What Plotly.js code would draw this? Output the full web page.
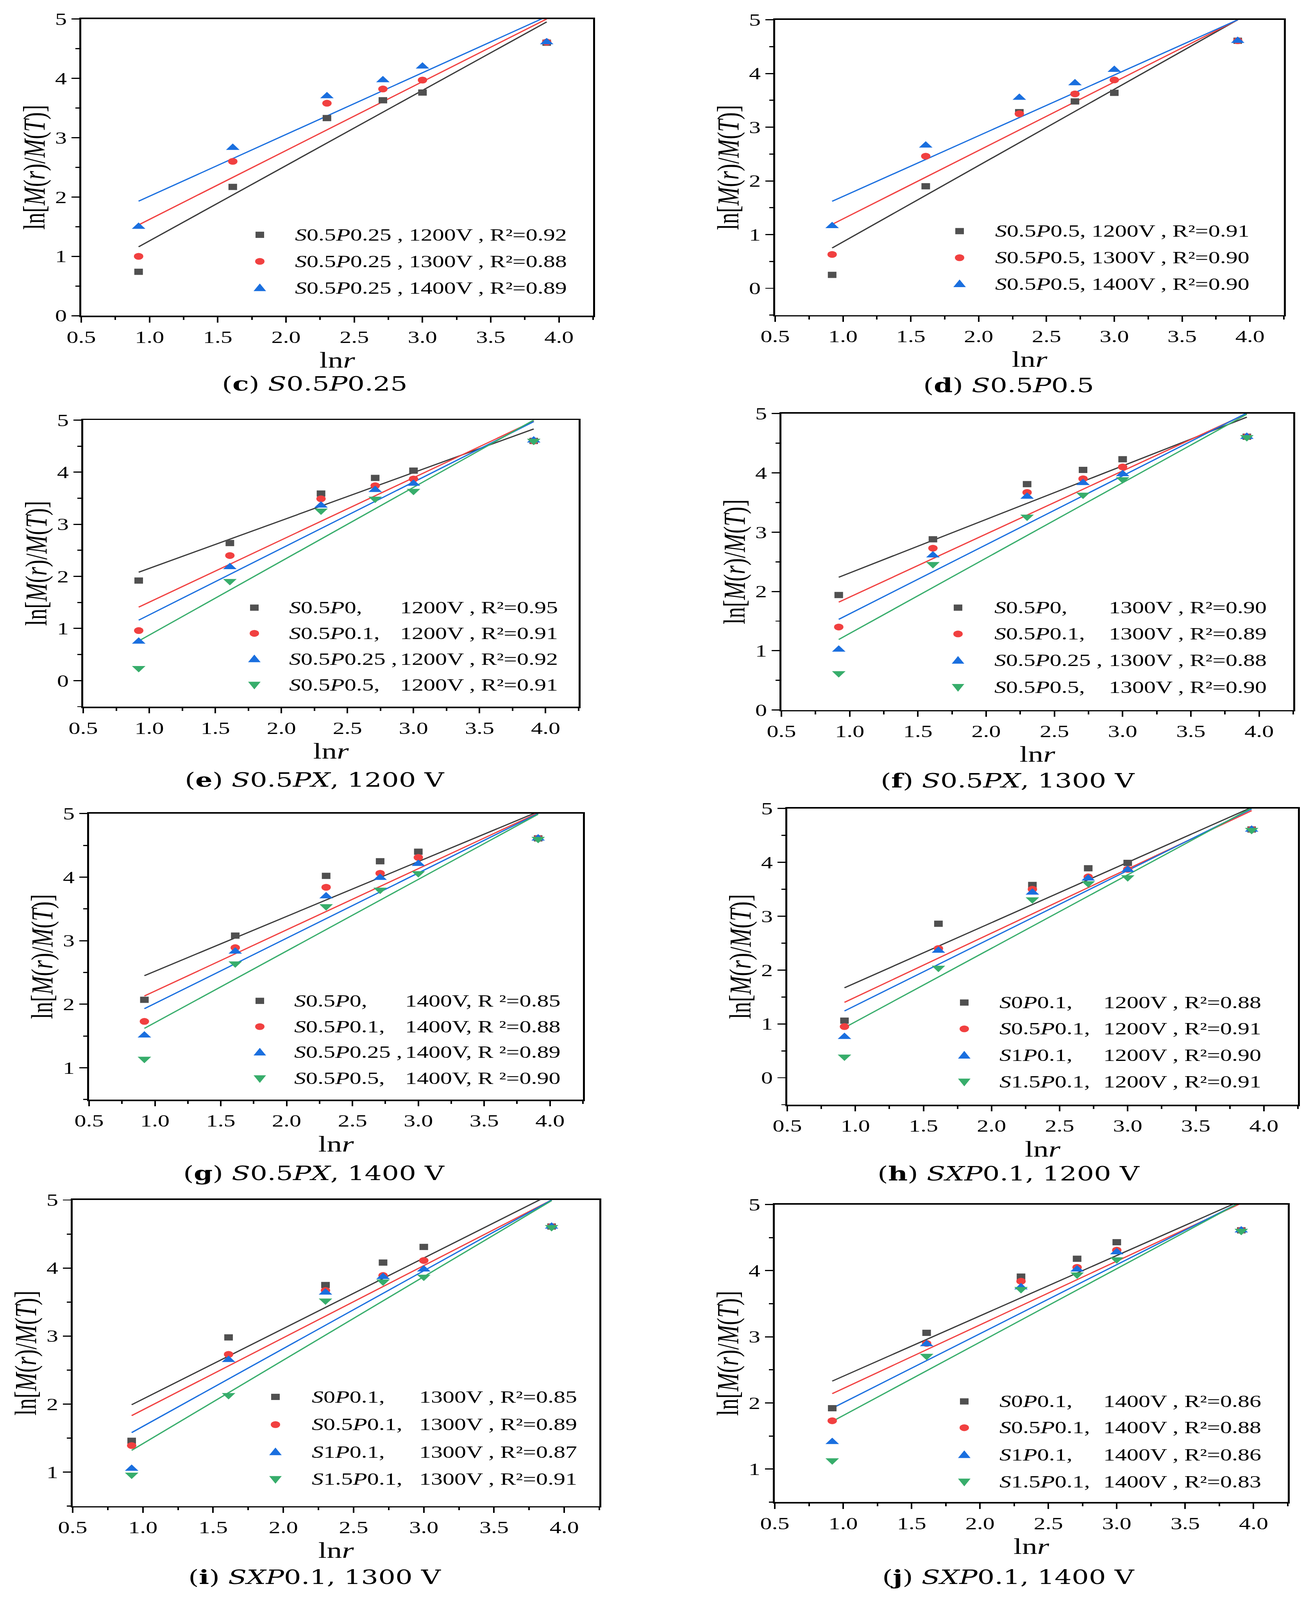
<!DOCTYPE html>
<html><head><meta charset="utf-8">
<script src="https://cdn.plot.ly/plotly-3.0.1.min.js"></script>
<style>html,body{margin:0;padding:0;background:#fff;overflow:hidden}#chart{width:3358px;height:5656px;transform-origin:0 0}</style>
</head><body><div id="chart"></div>
<script>
const W = 3358, H = 5656;

// ---------- shared x values: ln r ----------
const lnr = [0.92, 1.61, 2.30, 2.71, 3.00, 3.91];
const fitX = [0.92, 3.91];

// ---------- (c) S0.5P0.25 ----------
const c_1200 = [0.74, 2.17, 3.33, 3.63, 3.76, 4.60];
const c_1300 = [1.00, 2.60, 3.58, 3.82, 3.97, 4.61];
const c_1400 = [1.50, 2.83, 3.70, 3.97, 4.20, 4.61];
const c_fitStart = [1.16, 1.53, 1.93];
const c_fitEnd = [4.95, 5.00, 5.04];
const c_names = ["<i>S</i>0.5<i>P</i>0.25 , 1200V , R²=0.92",
                 "<i>S</i>0.5<i>P</i>0.25 , 1300V , R²=0.88",
                 "<i>S</i>0.5<i>P</i>0.25 , 1400V , R²=0.89"];
const c_caption = "(<b>c</b>) <i>S</i>0.5<i>P</i>0.25";

// ---------- (d) S0.5P0.5 ----------
const d_1200 = [0.25, 1.90, 3.28, 3.48, 3.64, 4.61];
const d_1300 = [0.63, 2.46, 3.25, 3.62, 3.88, 4.61];
const d_1400 = [1.16, 2.66, 3.55, 3.82, 4.07, 4.61];
const d_fitStart = [0.75, 1.19, 1.62];
const d_fitEnd = [5.00, 5.00, 5.00];
const d_names = ["<i>S</i>0.5<i>P</i>0.5, 1200V , R²=0.91",
                 "<i>S</i>0.5<i>P</i>0.5, 1300V , R²=0.90",
                 "<i>S</i>0.5<i>P</i>0.5, 1400V , R²=0.90"];
const d_caption = "(<b>d</b>) <i>S</i>0.5<i>P</i>0.5";

// ---------- (e) S0.5PX, 1200 V ----------
const e_P0 = [1.92, 2.64, 3.59, 3.89, 4.03, 4.60];
const e_P01 = [0.96, 2.40, 3.49, 3.74, 3.87, 4.60];
const e_P025 = [0.75, 2.18, 3.36, 3.66, 3.78, 4.61];
const e_P05 = [0.24, 1.91, 3.26, 3.49, 3.64, 4.60];
const e_fitStart = [2.08, 1.41, 1.16, 0.76];
const e_fitEnd = [4.83, 4.98, 4.97, 5.00];
const e_names = ["<i>S</i>0.5<i>P</i>0,", "<i>S</i>0.5<i>P</i>0.1,", "<i>S</i>0.5<i>P</i>0.25 ,", "<i>S</i>0.5<i>P</i>0.5,"];
const e_vals = ["1200V , R²=0.95", "1200V , R²=0.91", "1200V , R²=0.92", "1200V , R²=0.91"];
const e_caption = "(<b>e</b>) <i>S</i>0.5<i>PX</i>, 1200 V";

// ---------- (f) S0.5PX, 1300 V ----------
const f_P0 = [1.94, 2.88, 3.81, 4.05, 4.23, 4.61];
const f_P01 = [1.40, 2.73, 3.67, 3.90, 4.10, 4.61];
const f_P025 = [1.02, 2.61, 3.60, 3.83, 3.98, 4.61];
const f_P05 = [0.62, 2.46, 3.26, 3.63, 3.89, 4.60];
const f_fitStart = [2.24, 1.82, 1.53, 1.19];
const f_fitEnd = [4.94, 5.00, 5.01, 4.99];
const f_names = ["<i>S</i>0.5<i>P</i>0,", "<i>S</i>0.5<i>P</i>0.1,", "<i>S</i>0.5<i>P</i>0.25 ,", "<i>S</i>0.5<i>P</i>0.5,"];
const f_vals = ["1300V , R²=0.90", "1300V , R²=0.89", "1300V , R²=0.88", "1300V , R²=0.90"];
const f_caption = "(<b>f</b>) <i>S</i>0.5<i>PX</i>, 1300 V";

// ---------- (g) S0.5PX, 1400 V ----------
const g_P0 = [2.07, 3.08, 4.02, 4.25, 4.40, 4.61];
const g_P01 = [1.73, 2.89, 3.84, 4.06, 4.31, 4.61];
const g_P025 = [1.51, 2.83, 3.70, 3.99, 4.21, 4.61];
const g_P05 = [1.14, 2.64, 3.54, 3.80, 4.06, 4.60];
const g_fitStart = [2.45, 2.13, 1.93, 1.62];
const g_fitEnd = [5.03, 5.01, 5.00, 4.99];
const g_names = ["<i>S</i>0.5<i>P</i>0,", "<i>S</i>0.5<i>P</i>0.1,", "<i>S</i>0.5<i>P</i>0.25 ,", "<i>S</i>0.5<i>P</i>0.5,"];
const g_vals = ["1400V, R ²=0.85", "1400V, R ²=0.88", "1400V, R ²=0.89", "1400V, R ²=0.90"];
const g_caption = "(<b>g</b>) <i>S</i>0.5<i>PX</i>, 1400 V";

// ---------- (h) SXP0.1, 1200 V ----------
const h_S0 = [1.06, 2.86, 3.58, 3.89, 3.99, 4.61];
const h_S05 = [0.95, 2.40, 3.50, 3.73, 3.87, 4.61];
const h_S1 = [0.76, 2.36, 3.44, 3.70, 3.86, 4.61];
const h_S15 = [0.39, 2.04, 3.31, 3.61, 3.72, 4.60];
const h_fitStart = [1.67, 1.40, 1.24, 0.93];
const h_fitEnd = [5.02, 4.96, 4.99, 5.01];
const h_names = ["<i>S</i>0<i>P</i>0.1,", "<i>S</i>0.5<i>P</i>0.1,", "<i>S</i>1<i>P</i>0.1,", "<i>S</i>1.5<i>P</i>0.1,"];
const h_vals = ["1200V , R²=0.88", "1200V , R²=0.91", "1200V , R²=0.90", "1200V , R²=0.91"];
const h_caption = "(<b>h</b>) <i>SXP</i>0.1, 1200 V";

// ---------- (i) SXP0.1, 1300 V ----------
const i_S0 = [1.46, 2.98, 3.75, 4.08, 4.31, 4.61];
const i_S05 = [1.39, 2.73, 3.67, 3.89, 4.11, 4.61];
const i_S1 = [1.05, 2.65, 3.64, 3.87, 3.98, 4.61];
const i_S15 = [0.96, 2.13, 3.52, 3.80, 3.87, 4.60];
const i_fitStart = [1.99, 1.83, 1.58, 1.32];
const i_fitEnd = [5.09, 5.00, 5.00, 4.99];
const i_names = ["<i>S</i>0<i>P</i>0.1,", "<i>S</i>0.5<i>P</i>0.1,", "<i>S</i>1<i>P</i>0.1,", "<i>S</i>1.5<i>P</i>0.1,"];
const i_vals = ["1300V , R²=0.85", "1300V , R²=0.89", "1300V , R²=0.87", "1300V , R²=0.91"];
const i_caption = "(<b>i</b>) <i>SXP</i>0.1, 1300 V";

// ---------- (j) SXP0.1, 1400 V ----------
const j_S0 = [1.92, 3.06, 3.91, 4.18, 4.43, 4.61];
const j_S05 = [1.73, 2.90, 3.84, 4.05, 4.31, 4.61];
const j_S1 = [1.41, 2.89, 3.75, 4.02, 4.28, 4.61];
const j_S15 = [1.13, 2.71, 3.72, 3.94, 4.17, 4.60];
const j_fitStart = [2.33, 2.14, 1.92, 1.72];
const j_fitEnd = [5.06, 5.02, 5.04, 5.04];
const j_names = ["<i>S</i>0<i>P</i>0.1,", "<i>S</i>0.5<i>P</i>0.1,", "<i>S</i>1<i>P</i>0.1,", "<i>S</i>1.5<i>P</i>0.1,"];
const j_vals = ["1400V , R²=0.86", "1400V , R²=0.88", "1400V , R²=0.86", "1400V , R²=0.83"];
const j_caption = "(<b>j</b>) <i>SXP</i>0.1, 1400 V";

// ---------- styles ----------
const symbols = ['square', 'circle', 'triangle-up', 'triangle-down'];
const markerColors = ['#505050', '#f14040', '#1a6fdf', '#37ad6b'];
const lineColors = ['#3a3a3a', '#f14040', '#1a6fdf', '#37ad6b'];
const markerSizes = [22, 24, 30, 30];
const SERIF = 'Liberation Serif, Times New Roman, serif';
const CAPFONT = 'DejaVu Serif, serif';

// ---------- panel layout (pixel geometry of the 3358x5656 figure) ----------
const panels = [
  {x:[208,1518], y:[67,1116], yr:[0,5], series:[c_1200,c_1300,c_1400], fa:c_fitStart, fb:c_fitEnd, names:c_names, vals:null,
   keyX:665, textX:753, colX:null, rows:[830,924,1018], cap:[805,1357], capText:c_caption},
  {x:[1984,3286], y:[70,1114], yr:[-0.5,5], series:[d_1200,d_1300,d_1400], fa:d_fitStart, fb:d_fitEnd, names:d_names, vals:null,
   keyX:2456, textX:2545, colX:null, rows:[817,911,1004], cap:[2581,1362], capText:d_caption},
  {x:[213,1481], y:[1485,2498], yr:[-0.5,5], series:[e_P0,e_P01,e_P025,e_P05], fa:e_fitStart, fb:e_fitEnd, names:e_names, vals:e_vals,
   keyX:651, textX:738, colX:1022, rows:[2148,2239,2330,2421], cap:[805,2757], capText:e_caption},
  {x:[2000,3310], y:[1462,2510], yr:[0,5], series:[f_P0,f_P01,f_P025,f_P05], fa:f_fitStart, fb:f_fitEnd, names:f_names, vals:f_vals,
   keyX:2452, textX:2543, colX:2836, rows:[2148,2241,2335,2429], cap:[2579,2759], capText:f_caption},
  {x:[228,1492], y:[2876,3887], yr:[0.5,5], series:[g_P0,g_P01,g_P025,g_P05], fa:g_fitStart, fb:g_fitEnd, names:g_names, vals:g_vals,
   keyX:665, textX:751, colX:1035, rows:[3538,3629,3720,3812], cap:[803,4147], capText:g_caption},
  {x:[2015,3322], y:[2858,3905], yr:[-0.5,5], series:[h_S0,h_S05,h_S1,h_S15], fa:h_fitStart, fb:h_fitEnd, names:h_names, vals:h_vals,
   keyX:2468, textX:2556, colX:2822, rows:[3544,3637,3731,3824], cap:[2581,4148], capText:h_caption},
  {x:[186,1534], y:[4242,5324], yr:[0.5,5], series:[i_S0,i_S05,i_S1,i_S15], fa:i_fitStart, fb:i_fitEnd, names:i_names, vals:i_vals,
   keyX:705, textX:796, colX:1071, rows:[4938,5036,5133,5229], cap:[805,5574], capText:i_caption},
  {x:[1983,3296], y:[4258,5310], yr:[0.5,5], series:[j_S0,j_S05,j_S1,j_S15], fa:j_fitStart, fb:j_fitEnd, names:j_names, vals:j_vals,
   keyX:2468, textX:2556, colX:2822, rows:[4954,5047,5143,5238], cap:[2581,5574], capText:j_caption}
];

const data = [];
const layout = {
  width: W, height: H, margin: {l:0, r:0, t:0, b:0},
  paper_bgcolor: '#fff', plot_bgcolor: '#fff', showlegend: false,
  font: {family: SERIF, color: '#000', size: 60},
  annotations: [], shapes: []
};

function keyShape(k, color, px, py) {
  const base = {xref:'paper', yref:'paper', xsizemode:'pixel', ysizemode:'pixel',
    xanchor: px / W, yanchor: 1 - py / H, fillcolor: color, line: {width: 0}, layer: 'above'};
  if (k === 0) return Object.assign(base, {type:'rect', x0:-11, x1:11, y0:-11, y1:11});
  if (k === 1) return Object.assign(base, {type:'circle', x0:-12, x1:12, y0:-12, y1:12});
  if (k === 2) return Object.assign(base, {type:'path', path:'M-16,-11 L16,-11 L0,16 Z'});
  return Object.assign(base, {type:'path', path:'M-16,11 L16,11 L0,-16 Z'});
}

panels.forEach((p, n) => {
  const sfx = n === 0 ? '' : String(n + 1);
  const xa = 'x' + sfx, ya = 'y' + sfx;
  p.series.forEach((s, k) => {
    data.push({type:'scatter', mode:'lines', x: fitX, y: [p.fa[k], p.fb[k]], xaxis: xa, yaxis: ya,
      line: {color: lineColors[k], width: 4}, hoverinfo: 'skip'});
  });
  p.series.forEach((s, k) => {
    data.push({type:'scatter', mode:'markers', x: lnr, y: s, xaxis: xa, yaxis: ya,
      name: p.names[k].replace(/<[^>]+>/g, ''), cliponaxis: false,
      marker: {symbol: symbols[k], color: markerColors[k], size: markerSizes[k], line: {width: 0}}});
  });
  layout['xaxis' + sfx] = {
    domain: [p.x[0] / W, p.x[1] / W], anchor: ya, range: [0.5, 4.25],
    tick0: 0.5, dtick: 0.5, tickformat: '.1f', ticks: 'outside', ticklen: 19, tickwidth: 4, tickcolor: '#000',
    minor: {dtick: 0.25, ticks: 'outside', ticklen: 10, tickwidth: 4, tickcolor: '#000'},
    showline: true, linewidth: 5, linecolor: '#000', mirror: true, showgrid: false, zeroline: false,
    tickfont: {family: SERIF, size: 60, color: '#000'},
    title: {text: 'ln<i>r</i>', font: {family: SERIF, size: 78, color: '#000'}, standoff: 22}
  };
  layout['yaxis' + sfx] = {
    domain: [1 - p.y[1] / H, 1 - p.y[0] / H], anchor: xa, range: p.yr,
    tick0: 0, dtick: 1, ticks: 'outside', ticklen: 20, tickwidth: 4, tickcolor: '#000',
    minor: {dtick: 0.5, ticks: 'outside', ticklen: 10, tickwidth: 4, tickcolor: '#000'},
    showline: true, linewidth: 5, linecolor: '#000', mirror: true, showgrid: false, zeroline: false,
    tickfont: {family: SERIF, size: 60, color: '#000'},
    title: {text: 'ln[<i>M</i>(<i>r</i>)/<i>M</i>(<i>T</i>)]', font: {family: SERIF, size: 78, color: '#000'}, standoff: 2}
  };
  p.rows.forEach((ry, k) => {
    layout.shapes.push(keyShape(k, markerColors[k], p.keyX, ry));
    layout.annotations.push({xref:'paper', yref:'paper', x: p.textX / W, y: 1 - ry / H,
      xanchor:'left', yanchor:'middle', showarrow:false, text: p.names[k],
      font: {family: SERIF, size: 60, color: '#000'}});
    if (p.vals) {
      layout.annotations.push({xref:'paper', yref:'paper', x: p.colX / W, y: 1 - ry / H,
        xanchor:'left', yanchor:'middle', showarrow:false, text: p.vals[k],
        font: {family: SERIF, size: 60, color: '#000'}});
    }
  });
  layout.annotations.push({xref:'paper', yref:'paper', x: p.cap[0] / W, y: 1 - p.cap[1] / H,
    xanchor:'center', yanchor:'middle', showarrow:false, text: p.capText,
    font: {family: CAPFONT, size: 69, color: '#000'}});
});

// the browser window may be shorter than the figure: fit the whole figure into it
const el = document.getElementById('chart');
const vw = window.innerWidth, vh = window.innerHeight;
if (vh > 0 && vh < H) {
  el.style.transform = 'scale(' + Math.min(1, vw / W) + ',' + (vh / H) + ')';
}
Plotly.newPlot('chart', data, layout, {displayModeBar: false, staticPlot: true});
</script>
</body></html>
